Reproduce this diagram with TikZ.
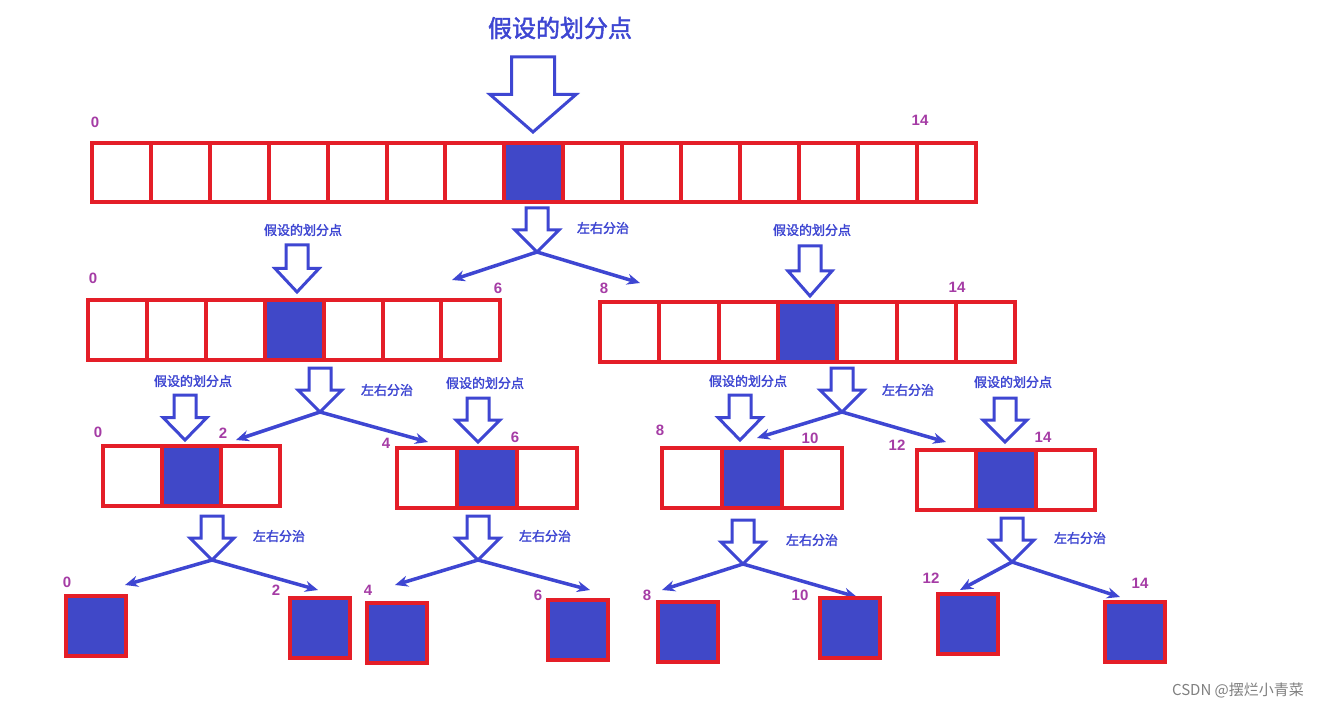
\documentclass[tikz,border=0pt]{standalone}
\usepackage{fontspec}
\usetikzlibrary{arrows.meta}
\newfontfamily\cjk{Noto Sans CJK SC}[AutoFakeBold=2]
\setsansfont{Liberation Sans}
\definecolor{cellred}{RGB}{228,30,40}
\definecolor{cellblue}{RGB}{64,72,200}
\definecolor{arrowblue}{RGB}{62,70,210}
\definecolor{idxpurple}{RGB}{165,60,165}
\tikzset{
  idx/.style={text=idxpurple, font=\sffamily\bfseries\fontsize{15}{16}\selectfont},
  tag/.style={text=arrowblue, font=\cjk\bfseries\fontsize{13}{14}\selectfont},
  split/.style={draw=arrowblue, line width=3.5pt, -{Stealth[length=13pt,width=11pt]}},
  hollow/.style={draw=arrowblue, line width=3pt, fill=white, line join=miter}
}
% cells: x0, y0, count, width, height, index of the blue cell
\newcommand\cellrow[6]{%
  \foreach \i in {1,...,#3}{
    \pgfmathsetmacro\xa{#1+(\i-1)*#4}
    \pgfmathsetmacro\xb{#1+\i*#4}
    \ifnum\i=#6
      \fill[cellblue] (\xa,#2) rectangle (\xb,#2+#5);
    \fi
    \draw[cellred, line width=4pt] (\xa,#2) rectangle (\xb,#2+#5);
  }}
% hollow down arrow: centre x, top, bottom, half width of the head
\newcommand\hollowarrow[4]{%
  \pgfmathsetmacro\sw{#4*0.5}
  \pgfmathsetmacro\ym{(#2+#3)/2}
  \draw[hollow] (#1-\sw,#2) -- (#1+\sw,#2) -- (#1+\sw,\ym) -- (#1+#4,\ym)
    -- (#1,#3) -- (#1-#4,\ym) -- (#1-\sw,\ym) -- cycle;}
\begin{document}
\begin{tikzpicture}[x=1pt,y=-1pt]
  \useasboundingbox[fill=white] (0,0) rectangle (1340,708);

  % top
  \node[text=arrowblue, font=\cjk\bfseries\fontsize{24}{26}\selectfont] (title) at (560,28) {假设的划分点};
  \hollowarrow{533}{57}{132}{43}
  \cellrow{92}{143}{15}{58.9}{59}{8}
  \node[idx] (l0) at (95,122) {0};
  \node[idx] (r0) at (920,120) {14};

  % first split
  \hollowarrow{537}{208}{252}{22}
  \node[tag] (s0) at (603,228) {左右分治};
  \coordinate (f0) at (537,252);
  \coordinate (e0a) at (452,280);
  \coordinate (e0b) at (640,283);
  \draw[split] (f0) -- (e0a);
  \draw[split] (f0) -- (e0b);

  % second row
  \cellrow{88}{300}{7}{58.9}{60}{4}
  \node[idx] (l1a) at (93,278) {0};
  \node[idx] (r1a) at (498,288) {6};
  \node[tag] (t1a) at (303,230) {假设的划分点};
  \hollowarrow{297}{245}{292}{22}
  \cellrow{600}{302}{7}{59.3}{60}{4}
  \node[idx] (l1b) at (604,288) {8};
  \node[idx] (r1b) at (957,287) {14};
  \node[tag] (t1b) at (812,230) {假设的划分点};
  \hollowarrow{810}{246}{296}{22}

  % second split
  \hollowarrow{320}{368}{412}{22}
  \node[tag] (s1a) at (387,390) {左右分治};
  \coordinate (f1a) at (320,412);
  \coordinate (e1a) at (236,440);
  \coordinate (e1b) at (428,442);
  \draw[split] (f1a) -- (e1a);
  \draw[split] (f1a) -- (e1b);
  \hollowarrow{842}{368}{412}{22}
  \node[tag] (s1b) at (908,390) {左右分治};
  \coordinate (f1b) at (842,412);
  \coordinate (e1c) at (757,438);
  \coordinate (e1d) at (946,442);
  \draw[split] (f1b) -- (e1c);
  \draw[split] (f1b) -- (e1d);

  % third row
  \cellrow{103}{446}{3}{59}{60}{2}
  \node[idx] (l2a) at (98,432) {0};
  \node[idx] (r2a) at (223,433) {2};
  \node[tag] (t2a) at (193,381) {假设的划分点};
  \hollowarrow{185}{395}{440}{22}
  \cellrow{397}{448}{3}{60}{60}{2}
  \node[idx] (l2b) at (386,443) {4};
  \node[idx] (r2b) at (515,437) {6};
  \node[tag] (t2b) at (485,383) {假设的划分点};
  \hollowarrow{478}{398}{442}{22}
  \cellrow{662}{448}{3}{60}{60}{2}
  \node[idx] (l2c) at (660,430) {8};
  \node[idx] (r2c) at (810,438) {10};
  \node[tag] (t2c) at (748,381) {假设的划分点};
  \hollowarrow{740}{395}{440}{22}
  \cellrow{917}{450}{3}{59.3}{60}{2}
  \node[idx] (l2d) at (897,445) {12};
  \node[idx] (r2d) at (1043,437) {14};
  \node[tag] (t2d) at (1013,382) {假设的划分点};
  \hollowarrow{1005}{398}{442}{22}

  % third split
  \foreach \cx/\ty/\tx/\la/\lay/\lb/\lby [count=\k] in
    {212/516/279/125/585/318/590, 478/516/545/395/585/590/590,
     743/520/812/662/590/857/597, 1012/518/1080/960/590/1120/597}{
    \hollowarrow{\cx}{\ty}{\ty+44}{22}
    \node[tag] (s2-\k) at (\tx,\ty+20) {左右分治};
    \coordinate (f2-\k) at (\cx,\ty+44);
    \coordinate (e2a-\k) at (\la,\lay);
    \coordinate (e2b-\k) at (\lb,\lby);
    \draw[split] (f2-\k) -- (e2a-\k);
    \draw[split] (f2-\k) -- (e2b-\k);
  }

  % leaves
  \foreach \x/\y/\n/\nx/\ny [count=\k] in
    {66/596/0/67/582, 290/598/2/276/590, 367/603/4/368/590, 548/600/6/538/595,
     658/602/8/647/595, 820/598/10/800/595, 938/594/12/931/578, 1105/602/14/1140/583}{
    \cellrow{\x}{\y}{1}{60}{60}{1}
    \node[idx] (leaf-\k) at (\nx,\ny) {\n};
  }

  \node[text=gray, font=\cjk\fontsize{15}{16}\selectfont] (mark) at (1238,690) {CSDN @摆烂小青菜};
\end{tikzpicture}
\end{document}
